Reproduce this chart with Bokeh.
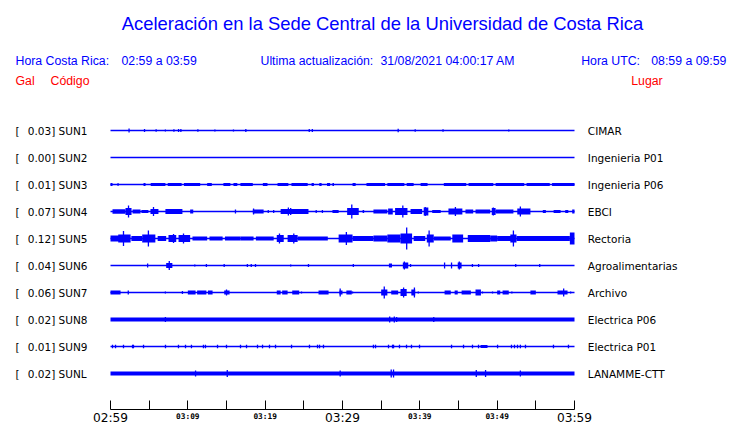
from bokeh.plotting import figure
from bokeh.models import Range1d, FixedTicker, LinearAxis
from bokeh.core.properties import value
from bokeh.embed import file_html
from bokeh.resources import INLINE

# ---------------- data ----------------
CODES = ["SUN1", "SUN2", "SUN3", "SUN4", "SUN5", "SUN6", "SUN7", "SUN8", "SUN9", "SUNL"]
GAL = ["0.03", "0.00", "0.01", "0.07", "0.12", "0.04", "0.06", "0.02", "0.01", "0.02"]
PLACES = ["CIMAR", "Ingenieria P01", "Ingenieria P06", "EBCI", "Rectoria",
          "Agroalimentarias", "Archivo", "Electrica P06", "Electrica P01", "LANAMME-CTT"]

TICK_MIN = [0, 10, 20, 30, 40, 50, 60]
TICK_LABELS = ["02:59", "03:09", "03:19", "03:29", "03:39", "03:49", "03:59"]
TICK_BIG = [True, False, False, True, False, False, True]
MINOR_MIN = [0, 5, 15, 25, 30, 35, 45, 55, 60]

# trace envelopes: blocks (start min, end min, amplitude), spikes (min, amplitude)
SUN1_BLOCKS = []
SUN1_SPIKES = [(2.4, 2), (4.4, 1.5), (5.9, 1.2), (7.1, 1), (8.2, 1.2), (8.8, 1.5), (9.1, 1.5),
               (11.3, 1.2), (13.5, 1), (15.9, 1), (17.5, 1.5), (25.7, 1.5), (26.1, 1.5),
               (37.2, 1.8), (39.4, 1.2), (43.0, 1.2), (51.5, 1)]
SUN2_BLOCKS = []
SUN2_SPIKES = []
SUN3_BLOCKS = [(0, 0.26, 1.5), (0.9, 1.05, 1.5), (4.27, 4.53, 1.5), (5.2, 7.1, 1.5), (7.4, 9.2, 1.5),
               (9.5, 11.6, 1.5), (12.5, 13.1, 1.5), (14.6, 15.5, 1.5), (15.9, 16.4, 1.5),
               (16.8, 18.4, 1.5), (19.7, 20.3, 1.5), (21.6, 23.0, 1.5), (23.4, 25.5, 1.5),
               (26.0, 26.3, 1.5), (27.0, 27.3, 1.5), (28.0, 28.4, 1.5), (28.7, 28.9, 1.5),
               (31.3, 31.7, 1.5), (33.1, 35.5, 1.5), (35.8, 38.0, 1.5), (38.3, 39.2, 1.5),
               (40.1, 41.0, 1.5), (43.1, 46.0, 1.5), (46.3, 49.5, 1.5), (49.8, 53.5, 1.5),
               (53.8, 56.8, 1.5), (57.1, 60.0, 1.5)]
SUN3_SPIKES = []
SUN4_BLOCKS = [(0.26, 1.94, 2.3), (1.94, 2.72, 3.5), (2.85, 3.88, 2), (4.0, 4.9, 1.5), (5.17, 6.2, 2.5),
               (7.1, 9.3, 2.5), (10.3, 10.7, 2), (18.4, 19.8, 2), (22.0, 25.6, 2.5), (28.7, 29.5, 1.5),
               (30.6, 32.1, 3.5), (32.6, 32.8, 1.5), (34.0, 35.8, 2), (35.9, 36.5, 3), (36.8, 38.4, 3.5),
               (38.8, 40.3, 2.5), (40.5, 41.1, 4), (41.6, 42.7, 1.5), (43.7, 45.5, 3), (45.9, 46.9, 2),
               (47.2, 49.1, 2), (49.3, 49.8, 3.5), (49.8, 52.1, 2), (52.6, 54.3, 3), (55.9, 56.3, 1.5),
               (57.3, 58.2, 1.5), (58.8, 59.2, 1.5), (59.7, 60.0, 2)]
SUN4_SPIKES = [(2.33, 6), (5.56, 4.5), (16.16, 2), (18.5, 3), (20.4, 1.5), (21.1, 1.5), (23.0, 4),
               (23.3, 3.5), (26.6, 1.5), (27.4, 1.5), (31.2, 7), (37.8, 6), (40.7, 4.5), (44.6, 4.5),
               (49.5, 4), (53.0, 5)]
SUN5_BLOCKS = [(0, 1.7, 3), (1.0, 2.6, 4), (2.7, 4.1, 2.5), (4.1, 5.8, 4), (6.1, 7.2, 2.5), (7.5, 8.5, 3.5),
               (8.8, 10.3, 3.5), (10.6, 12.5, 2), (12.8, 14.5, 2), (14.8, 16.8, 2), (16.8, 18.5, 2),
               (18.8, 21.1, 2), (21.5, 22.4, 3.5), (22.9, 24.2, 3.5), (24.2, 28.1, 2), (29.5, 31.3, 4),
               (31.3, 34.0, 2.5), (34.0, 35.8, 3), (35.8, 37.5, 4), (37.5, 39.0, 5), (39.2, 40.7, 2.5),
               (40.9, 41.8, 4), (41.8, 44.0, 2), (44.2, 45.6, 4), (46.2, 49.1, 3.5), (49.1, 50.0, 3),
               (50.0, 51.9, 2.5), (51.7, 52.5, 4), (52.5, 59.4, 2.5), (59.4, 60.0, 6)]
SUN5_SPIKES = [(1.68, 7.5), (4.9, 8), (8.15, 4.5), (9.44, 5), (21.85, 5), (23.7, 5), (30.5, 6.5),
               (38.3, 11), (41.2, 8), (52.1, 8)]
SUN6_BLOCKS = [(7.2, 8.0, 2.5), (36.0, 36.4, 2), (37.8, 38.5, 3), (44.9, 45.4, 3)]
SUN6_SPIKES = [(4.8, 2), (7.6, 4.5), (10.9, 1), (12.4, 1.5), (14.7, 1.5), (17.7, 1.5), (18.2, 1.5),
               (18.75, 1.5), (23.3, 1), (25.6, 1.5), (31.4, 1.5), (38.0, 4), (38.8, 1.5), (43.2, 3),
               (44.1, 3), (45.1, 4), (46.8, 1.5), (47.6, 1.5), (52.4, 1.5), (55.5, 1.5)]
SUN7_BLOCKS = [(0, 1.3, 2), (10.0, 11.0, 2), (11.2, 12.4, 2), (12.6, 13.2, 2), (14.7, 15.4, 2),
               (21.5, 22.0, 2), (22.2, 22.9, 2), (23.5, 24.4, 2), (26.9, 28.2, 2), (29.6, 30.0, 2),
               (30.5, 31.2, 2), (35.0, 35.8, 3), (36.3, 37.2, 2), (37.5, 38.3, 3.5), (38.9, 39.4, 3),
               (43.2, 44.0, 2), (44.5, 44.9, 2), (45.4, 46.6, 2), (47.2, 47.9, 3), (50.0, 50.4, 2),
               (50.7, 51.5, 2), (54.3, 55.0, 2), (57.8, 59.1, 2)]
SUN7_SPIKES = [(2.3, 2), (7.1, 1), (9.3, 1.5), (15.0, 3), (24.7, 1), (29.7, 4), (31.3, 1), (35.4, 6),
               (37.9, 5), (39.3, 5), (39.8, 1), (48.1, 1), (49.4, 1), (51.9, 1), (58.6, 4), (59.5, 1)]
SUN8_BLOCKS = []
SUN8_SPIKES = [(7.1, 2.5), (36.1, 3), (36.7, 3), (37.0, 2.5), (41.8, 2.5)]
SUN9_BLOCKS = [(47.85, 48.75, 1.5)]
SUN9_SPIKE_TIMES = [0.26, 0.65, 1.68, 2.85, 2.97, 4.27, 7.11, 8.79, 9.70, 10.47, 12.02,
                    12.28, 13.84, 15.00, 16.81, 17.59, 19.01, 19.66, 20.56, 21.34, 23.41,
                    25.73, 26.77, 27.03, 27.54, 34.0, 34.27, 35.95, 36.47, 36.6, 37.37,
                    38.28, 38.92, 39.96, 44.1, 45.65, 46.81, 47.59, 50.05, 51.85, 52.24,
                    52.63, 53.0, 53.66, 57.28, 59.22]
SUN9_SPIKES = [(t, 1.8) for t in SUN9_SPIKE_TIMES]
SUNL_BLOCKS = []
SUNL_SPIKES = [(11.0, 3), (15.1, 3.5), (29.7, 3), (36.3, 4), (36.6, 4), (47.3, 3.5), (48.5, 3.5), (53.0, 3)]

TRACES = [(SUN1_BLOCKS, SUN1_SPIKES), (SUN2_BLOCKS, SUN2_SPIKES), (SUN3_BLOCKS, SUN3_SPIKES),
          (SUN4_BLOCKS, SUN4_SPIKES), (SUN5_BLOCKS, SUN5_SPIKES), (SUN6_BLOCKS, SUN6_SPIKES),
          (SUN7_BLOCKS, SUN7_SPIKES), (SUN8_BLOCKS, SUN8_SPIKES), (SUN9_BLOCKS, SUN9_SPIKES),
          (SUNL_BLOCKS, SUNL_SPIKES)]
BASE_WIDTH = [1.3, 1.3, 1.4, 1.5, 1.6, 1.5, 1.5, 4, 1.3, 4]

# ---------------- layout ----------------
BLUE = "#0000ff"
RED = "#ff0000"
W, H = 740, 423
AXIS_Y = 409                 # pixel row of the time axis
PX_PER_MIN = 464 / 60.0
X0 = 110                     # pixel column of 02:59
ROW0, ROW_PX = 130, 27.0     # pixel row of first trace, spacing
AMP = 1.0 / ROW_PX


def mx(px):
    return (px - X0) / PX_PER_MIN


def ry(py):
    return (py - ROW0) / ROW_PX


p = figure(width=W, height=H,
           x_range=Range1d(mx(0), mx(W)),
           y_range=Range1d(ry(H), ry(0)),
           output_backend="svg", toolbar_location=None, y_axis_location=None,
           min_border_left=0, min_border_right=0, min_border_top=0, min_border_bottom=0)
p.outline_line_color = None
p.grid.visible = False
p.background_fill_color = "white"
p.border_fill_color = "white"

small_ticks = [m for m, b in zip(TICK_MIN, TICK_BIG) if not b]
small_labels = [l for l, b in zip(TICK_LABELS, TICK_BIG) if not b]
big_ticks = [m for m, b in zip(TICK_MIN, TICK_BIG) if b]
big_labels = [l for l, b in zip(TICK_LABELS, TICK_BIG) if b]

ax = p.xaxis[0]
ax.fixed_location = ry(AXIS_Y)
ax.ticker = FixedTicker(ticks=small_ticks, minor_ticks=MINOR_MIN)
ax.bounds = (0, 60)
ax.major_tick_in = 9
ax.major_tick_out = 0
ax.minor_tick_in = 9
ax.minor_tick_out = 0
ax.minor_tick_line_color = "black"
ax.major_tick_line_color = "black"
ax.axis_line_color = "black"
ax.major_label_overrides = {m: l for m, l in zip(small_ticks, small_labels)}
ax.major_label_text_font = "DejaVu Sans Mono"
ax.major_label_text_font_style = "bold"
ax.major_label_text_font_size = "7.8px"
ax.major_label_text_color = "black"
ax.major_label_standoff = 2

# second axis carrying the large hour labels on the same line
ax2 = LinearAxis(ticker=FixedTicker(ticks=big_ticks), fixed_location=ry(AXIS_Y),
                 major_label_overrides={m: l for m, l in zip(big_ticks, big_labels)},
                 axis_line_color=None, major_tick_line_color=None, minor_tick_line_color=None,
                 major_tick_in=0, major_tick_out=0, major_label_standoff=1,
                 major_label_text_font="DejaVu Sans", major_label_text_font_size="12.2px",
                 major_label_text_color="black")
p.add_layout(ax2, "below")

# baselines
rows = list(range(len(CODES)))
p.segment(x0=[0] * len(rows), x1=[60] * len(rows), y0=rows, y1=rows,
          line_width=BASE_WIDTH, color=BLUE)

# blocks and spikes
bl, br, bt, bb = [], [], [], []
sx, sy0, sy1 = [], [], []
for i, (blocks, spikes) in enumerate(TRACES):
    for t0, t1, a in blocks:
        bl.append(t0)
        br.append(max(t1, t0 + 0.13))
        bt.append(i - a * AMP)
        bb.append(i + a * AMP)
    for t, a in spikes:
        sx.append(t)
        sy0.append(i - a * AMP)
        sy1.append(i + a * AMP)
p.quad(left=bl, right=br, top=bt, bottom=bb, fill_color=BLUE, line_color=None)
p.segment(x0=sx, x1=sx, y0=sy0, y1=sy1, line_width=1.3, color=BLUE)

# station labels
lab_y = [i + 0.2 / ROW_PX for i in rows]
common = dict(text_font=value("DejaVu Sans"), text_font_size=value("10.5px"), text_color="black",
              text_baseline="middle", text_align="left")
p.text(x=[mx(15)] * len(rows), y=lab_y, text=["["] * len(rows), **common)
p.text(x=[mx(27.3)] * len(rows), y=lab_y, text=[f"{g}] {c}" for g, c in zip(GAL, CODES)], **common)
p.text(x=[mx(587.3)] * len(rows), y=lab_y, text=PLACES, **common)

# header
p.text(x=[mx(382)], y=[ry(23)], text=["Aceleración en la Sede Central de la Universidad de Costa Rica"],
       text_font=value("Liberation Sans"), text_font_size=value("18.4px"), text_color=BLUE,
       text_baseline="middle", text_align="center")
p.text(x=[mx(15), mx(121), mx(260), mx(380), mx(580.7), mx(650.7)], y=[ry(60.8)] * 6,
       text=["Hora Costa Rica:", "02:59 a 03:59", "Ultima actualización:", "31/08/2021 04:00:17 AM",
             "Hora UTC:", "08:59 a 09:59"],
       text_font=value("Liberation Sans"), text_font_size=value("12.3px"), text_color=BLUE,
       text_baseline="middle", text_align="left")
p.text(x=[mx(15), mx(50), mx(630.7)], y=[ry(80)] * 3, text=["Gal", "Código", "Lugar"],
       text_font=value("Liberation Sans"), text_font_size=value("12.3px"), text_color=RED,
       text_baseline="middle", text_align="left")

open("out.html", "w").write(file_html(p, INLINE))
